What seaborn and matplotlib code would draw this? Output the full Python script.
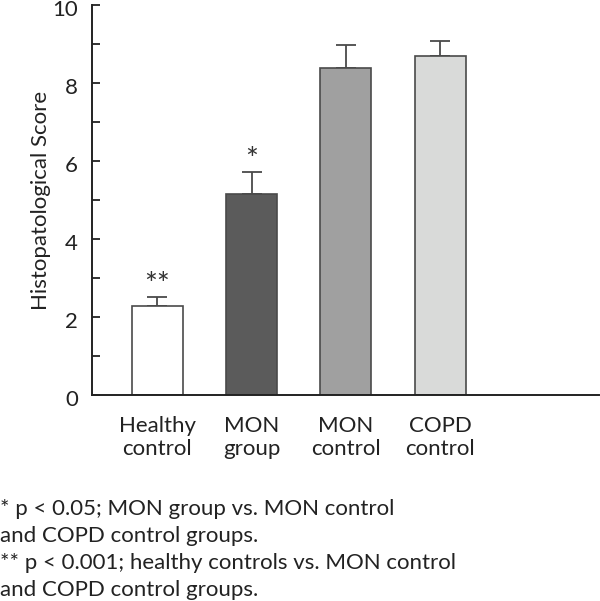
import matplotlib
matplotlib.use("Agg")
import matplotlib.pyplot as plt
import matplotlib.transforms as mtransforms
import seaborn as sns
import numpy as np
import pandas as pd

categories = ["Healthy\ncontrol", "MON\ngroup", "MON\ncontrol", "COPD\ncontrol"]
scores = [2.28, 5.15, 8.38, 8.69]
errors = [0.23, 0.57, 0.59, 0.39]
stars = ["**", "*", "", ""]
bar_colors = ["#ffffff", "#5b5b5b", "#a0a0a0", "#d9dad9"]
yticks = [0, 2, 4, 6, 8, 10]
footnotes = [
    "* p < 0.05; MON group vs. MON control",
    "and COPD control groups.",
    "** p < 0.001; healthy controls vs. MON control",
    "and COPD control groups.",
]

sns.set_style("ticks")
plt.rcParams["font.family"] = ["Lato", "DejaVu Sans"]

fig = plt.figure(figsize=(6.0, 6.01), dpi=100)
ax = fig.add_axes([92 / 600, 1 - 395 / 601, (599 - 92) / 600, (395 - 5) / 601])

df = pd.DataFrame({"cat": categories, "score": scores})
sns.barplot(data=df, x="cat", y="score", hue="cat", palette=bar_colors,
            legend=False, width=0.54, edgecolor="#4a4a4a", linewidth=1.2,
            ax=ax, zorder=2)

x = np.arange(len(categories))
ax.errorbar(x, scores, yerr=[np.zeros(len(scores)), errors], fmt="none",
            ecolor="#4a4a4a", elinewidth=1.3, capsize=7.5, capthick=1.3, zorder=1)
for xi, s, e, st in zip(x, scores, errors, stars):
    if st:
        ax.text(xi, s + e + 0.30, st, ha="center", va="center", fontsize=22, color="#333333")

ax.set_xlim(-0.69, 4.68)
ax.set_ylim(0, 10)
ax.set_yticks(np.arange(0, 11, 1))
ax.set_yticklabels([str(v) if v in yticks else "" for v in range(0, 11)])
ax.tick_params(axis="y", direction="in", length=6, width=1.3, labelsize=16, pad=10, colors="#222222")
ax.tick_params(axis="x", length=0, labelsize=16, pad=15, colors="#222222")
# nudge the y labels down slightly so the top one stays inside the figure, as in the reference
offset = mtransforms.ScaledTranslation(0, -2 / 72, fig.dpi_scale_trans)
for lbl in ax.get_yticklabels():
    lbl.set_transform(lbl.get_transform() + offset)
ax.set_xlabel("")
ax.set_ylabel("Histopatological Score", fontsize=16, color="#222222", labelpad=1)
for side in ["top", "right"]:
    ax.spines[side].set_visible(False)
for side in ["left", "bottom"]:
    ax.spines[side].set_linewidth(1.4)
    ax.spines[side].set_color("#222222")

for i, line in enumerate(footnotes):
    fig.text(0.0, 1 - (509 + 27 * i) / 601, line, ha="left", va="center", fontsize=16, color="#222222")

fig.savefig("out.png", dpi=100)
